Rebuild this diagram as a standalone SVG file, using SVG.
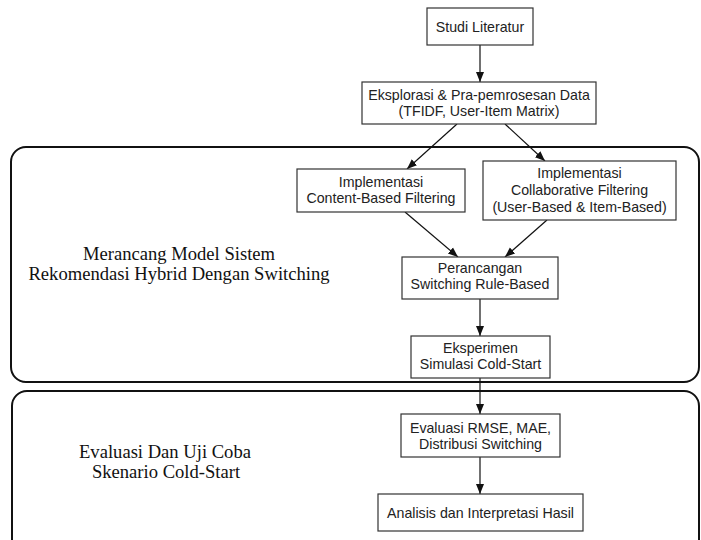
<svg xmlns="http://www.w3.org/2000/svg" width="701" height="540" viewBox="0 0 701 540">
<style>
.node rect{fill:#fff;stroke:#333;stroke-width:1.2}
.node text{font-family:"Liberation Sans",Arial,sans-serif;font-size:14.2px;fill:#222;text-anchor:middle}
.grp{fill:none;stroke:#111;stroke-width:2}
.glabel{font-family:"Liberation Serif","Times New Roman",serif;font-size:18.6px;fill:#111;text-anchor:middle}
.conn line{stroke:#111;stroke-width:1.2}
</style>
<defs>
<marker id="ah" viewBox="0 0 10 10" refX="10" refY="5" markerWidth="10" markerHeight="10" markerUnits="userSpaceOnUse" orient="auto">
<path d="M0,1 L10,5 L0,9 Z" fill="#111"/>
</marker>
</defs>
<rect fill="#fff" x="0" y="0" width="701" height="540"/>
<g id="group-design">
<rect class="grp" x="11" y="147" width="688" height="235" rx="15"/>
<text class="glabel" x="179" y="260">Merancang Model Sistem</text>
<text class="glabel" x="179" y="280">Rekomendasi Hybrid Dengan Switching</text>
</g>
<g id="group-eval">
<rect class="grp" x="12" y="391" width="687" height="170" rx="15"/>
<text class="glabel" x="165" y="458">Evaluasi Dan Uji Coba</text>
<text class="glabel" x="166" y="478">Skenario Cold-Start</text>
</g>
<g class="conn" id="connectors">
<line x1="480" y1="45" x2="480" y2="82" marker-end="url(#ah)"/>
<line x1="457" y1="124" x2="407" y2="169" marker-end="url(#ah)"/>
<line x1="505" y1="124" x2="545" y2="161" marker-end="url(#ah)"/>
<line x1="405" y1="212" x2="458" y2="257" marker-end="url(#ah)"/>
<line x1="547" y1="220" x2="505" y2="257" marker-end="url(#ah)"/>
<line x1="480" y1="299" x2="480" y2="336" marker-end="url(#ah)"/>
<line x1="480" y1="378" x2="480" y2="414" marker-end="url(#ah)"/>
<line x1="480" y1="457" x2="480" y2="494" marker-end="url(#ah)"/>
</g>
<g class="node" id="studi">
<rect x="427" y="8" width="106" height="37"/>
<text x="480" y="31.5">Studi Literatur</text>
</g>
<g class="node" id="eksplorasi">
<rect x="362" y="82" width="234" height="42"/>
<text x="479" y="100">Eksplorasi &amp; Pra-pemrosesan Data</text>
<text x="479" y="116">(TFIDF, User-Item Matrix)</text>
</g>
<g class="node" id="cbf">
<rect x="297" y="169" width="168" height="43"/>
<text x="381" y="187">Implementasi</text>
<text x="381" y="203">Content-Based Filtering</text>
</g>
<g class="node" id="cf">
<rect x="483" y="161" width="193" height="59"/>
<text x="579.5" y="178">Implementasi</text>
<text x="579.5" y="195">Collaborative Filtering</text>
<text x="579.5" y="212">(User-Based &amp; Item-Based)</text>
</g>
<g class="node" id="perancangan">
<rect x="402" y="257" width="156" height="42"/>
<text x="480" y="273">Perancangan</text>
<text x="480" y="289">Switching Rule-Based</text>
</g>
<g class="node" id="eksperimen">
<rect x="411" y="336" width="139" height="42"/>
<text x="480.5" y="353">Eksperimen</text>
<text x="480.5" y="369">Simulasi Cold-Start</text>
</g>
<g class="node" id="evaluasi">
<rect x="401" y="414" width="159" height="43"/>
<text x="480.5" y="433">Evaluasi RMSE, MAE,</text>
<text x="480.5" y="449">Distribusi Switching</text>
</g>
<g class="node" id="analisis">
<rect x="378" y="494" width="205" height="37"/>
<text x="480.5" y="517.5">Analisis dan Interpretasi Hasil</text>
</g>
</svg>
